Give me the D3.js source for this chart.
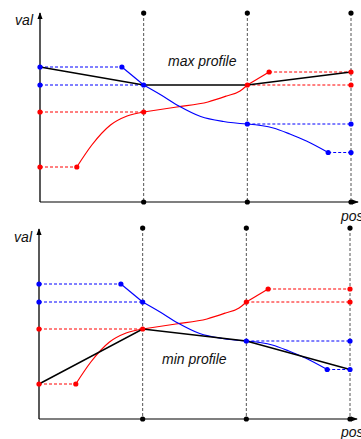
<!DOCTYPE html>
<html>
<head>
<meta charset="utf-8">
<script src="https://cdn.jsdelivr.net/npm/d3@7"></script>
<style>
  html, body { margin: 0; padding: 0; background: #fff; }
  svg { display: block; }
  text { font-family: "Liberation Sans", Arial, sans-serif; font-style: italic; font-size: 14px; fill: #111; }
</style>
</head>
<body>
<svg id="chart" width="361" height="439"></svg>
<script>
// ---------- data ----------
const knots = [0, 1, 2, 3];                       // positions of the vertical markers

// red function: pieces
const redFlatStart = [[0, 35], [0.355, 35]];
const redSeg1 = [[0.355, 35], [0.5, 57], [0.68, 77], [0.84, 86], [1, 90]];
const redSeg2 = [[1, 90], [1.32, 95], [1.62, 100], [1.8, 106], [1.93, 111], [2, 117]];
const redSeg3 = [[2, 117], [2.21, 130]];
const redFlatEnd = [[2.21, 130], [3, 130]];
const redGuides = [[[0, 90], [1, 90]], [[2, 117], [3, 117]]];
const redDots = [[0, 90], [0, 35], [0.355, 35], [1, 90], [2, 117], [2.21, 130], [3, 130], [3, 117]];

// blue function
const blueFlatStart = [[0, 135], [0.79, 135]];
const blueSeg1 = [[0.79, 135], [1, 117]];
const blueSeg2 = [[1, 117], [1.16, 107.5], [1.34, 96], [1.55, 85.5], [1.77, 80.5], [2, 78]];
const blueSeg3 = [[2, 78], [2.25, 74], [2.41, 68], [2.57, 61], [2.78, 49.5]];
const blueFlatEnd = [[2.78, 49.5], [3, 49.5]];
const blueGuides = [[[0, 117], [1, 117]], [[2, 78], [3, 78]]];
const blueDots = [[0, 135], [0, 117], [0.79, 135], [1, 117], [2, 78], [2.78, 49.5], [3, 78], [3, 49.5]];

// black profiles
const maxProfile = [[0, 135], [1, 117], [2, 117], [3, 130]];
const minProfile = [[0, 35], [1, 90], [2, 78], [3, 49.5]];

const panelLabels = ["max profile", "min profile"];
const axisLabels = { x: "pos", y: "val" };

// ---------- drawing ----------
const svg = d3.select("#chart");
const RED = "#ff0000", BLUE = "#0000ff";

svg.append("defs").html(`
  <marker id="arr" viewBox="0 0 8 8" refX="7" refY="4" markerWidth="7" markerHeight="7" orient="auto" markerUnits="userSpaceOnUse">
    <path d="M0,1 L8,4 L0,7 Z" fill="#000"/>
  </marker>`);

const panels = [
  { x0: 40, x1: 351, axisY: 202, dotTop: 13, arrowTop: 13, arrowRight: 358,
    profile: maxProfile, label: panelLabels[0], lx: 168, ly: 66, valY: 25, posY: 221 },
  { x0: 39, x1: 350, axisY: 419, dotTop: 228, arrowTop: 229, arrowRight: 357,
    profile: minProfile, label: panelLabels[1], lx: 162, ly: 364, valY: 242, posY: 437 }
];

panels.forEach(p => {
  const x = d3.scaleLinear().domain([0, 3]).range([p.x0, p.x1]);
  const y = d3.scaleLinear().domain([0, 189]).range([p.axisY, p.axisY - 189]);
  const g = svg.append("g");
  const line = d3.line().x(d => x(d[0])).y(d => y(d[1]));
  const curve = d3.line().x(d => x(d[0])).y(d => y(d[1])).curve(d3.curveMonotoneX);

  // vertical dashed markers
  knots.slice(1).forEach(k => {
    g.append("line").attr("x1", x(k)).attr("x2", x(k)).attr("y1", p.dotTop).attr("y2", p.axisY)
      .attr("stroke", "#555").attr("stroke-width", 1).attr("stroke-dasharray", "3,2");
  });

  // axes
  g.append("line").attr("x1", p.x0).attr("x2", p.arrowRight).attr("y1", p.axisY).attr("y2", p.axisY)
    .attr("stroke", "#555").attr("stroke-width", 1.6).attr("marker-end", "url(#arr)");
  g.append("line").attr("x1", p.x0).attr("x2", p.x0).attr("y1", p.axisY).attr("y2", p.arrowTop)
    .attr("stroke", "#000").attr("stroke-width", 1.3).attr("marker-end", "url(#arr)");

  // dashed guides
  const dashed = (pts, col) => g.append("path").attr("d", line(pts)).attr("fill", "none")
    .attr("stroke", col).attr("stroke-width", 1).attr("stroke-dasharray", "3,2");
  dashed(redFlatStart, RED); dashed(redFlatEnd, RED);
  redGuides.forEach(s => dashed(s, RED));
  dashed(blueFlatStart, BLUE); dashed(blueFlatEnd, BLUE);
  blueGuides.forEach(s => dashed(s, BLUE));

  // curves
  const solid = (pts, col) => g.append("path").attr("d", curve(pts)).attr("fill", "none")
    .attr("stroke", col).attr("stroke-width", 1.2);
  [redSeg1, redSeg2, redSeg3].forEach(s => solid(s, RED));
  [blueSeg1, blueSeg2, blueSeg3].forEach(s => solid(s, BLUE));

  // black profile
  g.append("path").attr("d", line(p.profile)).attr("fill", "none")
    .attr("stroke", "#000").attr("stroke-width", 1.5);

  // dots
  const dot = (pts, col) => g.selectAll(null).data(pts).enter().append("circle")
    .attr("cx", d => x(d[0])).attr("cy", d => y(d[1])).attr("r", 2.6).attr("fill", col);
  dot(redDots, RED);
  dot(blueDots, BLUE);
  knots.slice(1).forEach(k => {
    g.append("circle").attr("cx", x(k)).attr("cy", p.dotTop).attr("r", 2.6).attr("fill", "#000");
    g.append("circle").attr("cx", x(k)).attr("cy", p.axisY).attr("r", 2.6).attr("fill", "#000");
  });

  // labels
  g.append("text").attr("x", p.lx).attr("y", p.ly).text(p.label);
  g.append("text").attr("x", p.x0 - 7).attr("y", p.valY).attr("text-anchor", "end").text(axisLabels.y);
  g.append("text").attr("x", 341).attr("y", p.posY).text(axisLabels.x);
});
</script>
</body>
</html>
